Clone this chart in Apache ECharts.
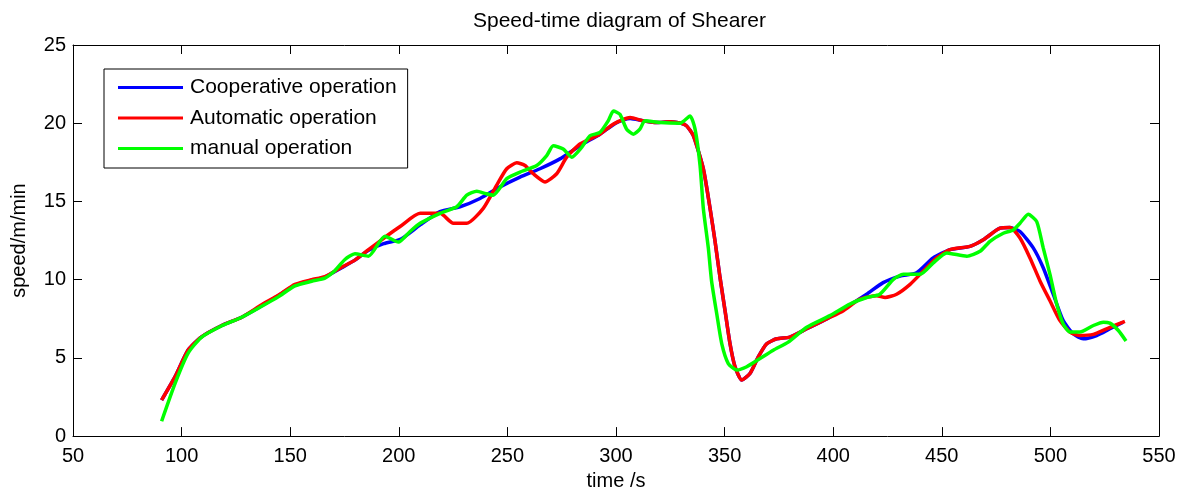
<!DOCTYPE html>
<html>
<head>
<meta charset="utf-8">
<script src="https://cdn.jsdelivr.net/npm/echarts@6/dist/echarts.min.js"></script>
<style>
  html, body { margin: 0; padding: 0; background: #fff; }
  #chart { width: 1185px; height: 496px; }
</style>
</head>
<body>
<div id="chart"></div>
<script>
// ---- data ----
const chartTitle = 'Speed-time diagram of Shearer';
const xAxisName = 'time /s';
const yAxisName = 'speed/m/min';
const seriesNames = ['Cooperative operation', 'Automatic operation', 'manual operation'];

const tCoop = [90.8, 97, 103, 109, 118.5, 127.7, 136.9, 144.5, 152.2, 159.9, 166, 173.7, 179.8, 185.9, 193, 201, 209.8, 219, 228.2, 237.4, 246.6, 255.8, 265, 274.2, 283.4, 292.6, 300.3, 306.5, 312.6, 318.7, 325, 330, 332.5, 335.6, 340.2, 343.3, 345.6, 347.9, 350.2, 352.5, 354.8, 357.9, 361.7, 365.5, 369.4, 374, 380, 387.8, 397, 404.7, 415.4, 423, 430.8, 438.4, 446, 453.8, 463, 469.1, 476.8, 481.4, 486, 492.1, 496.7, 501.3, 505.9, 510.5, 515.1, 521.3, 527.4, 533.5];
const vCoop = [2.3, 3.8, 5.5, 6.33, 7.07, 7.6, 8.33, 8.97, 9.66, 9.96, 10.17, 10.76, 11.25, 11.86, 12.3, 12.6, 13.5, 14.35, 14.66, 15.19, 15.93, 16.56, 17.09, 17.72, 18.56, 19.3, 20.04, 20.3, 20.15, 20.04, 20.1, 20.0, 19.83, 19.2, 17.09, 14.56, 12.45, 10.13, 8.02, 5.9, 4.43, 3.59, 4.0, 5.06, 5.9, 6.22, 6.33, 6.86, 7.49, 8.12, 9.07, 9.81, 10.23, 10.44, 11.39, 11.92, 12.13, 12.55, 13.29, 13.33, 13.08, 12.03, 10.76, 9.07, 7.38, 6.54, 6.22, 6.43, 6.86, 7.28];

const tAuto = [90.8, 97, 103, 109, 118.5, 127.7, 136.9, 144.5, 152.2, 159.9, 166, 173.7, 179.8, 185.9, 195.2, 200.6, 209.8, 219, 225.1, 231.3, 238.9, 245, 249.7, 254.3, 258.1, 261.9, 267.3, 272.7, 277.3, 283.4, 292.6, 298.8, 306.5, 312.6, 318.7, 325, 330, 332.5, 335.6, 340.2, 343.3, 345.6, 347.9, 350.2, 352.5, 354.8, 357.9, 361.7, 365.5, 369.4, 374, 380, 387.8, 397, 404.7, 412.3, 420, 423.9, 429.2, 435.4, 441.5, 447.6, 453.8, 463, 469.1, 476.8, 481.4, 486, 490.6, 495.2, 499.8, 504.4, 509, 513.6, 519.8, 525.9, 534.3];
const vAuto = [2.3, 3.8, 5.5, 6.33, 7.07, 7.6, 8.4, 9.0, 9.7, 10.0, 10.2, 10.8, 11.25, 11.9, 12.87, 13.4, 14.24, 14.24, 13.6, 13.6, 14.56, 16.03, 17.09, 17.47, 17.3, 16.77, 16.25, 16.77, 17.83, 18.67, 19.3, 19.94, 20.36, 20.15, 20.04, 20.1, 20.0, 19.83, 19.2, 17.09, 14.56, 12.45, 10.13, 8.02, 5.9, 4.43, 3.59, 4.0, 5.06, 5.9, 6.22, 6.33, 6.86, 7.49, 8.02, 8.75, 8.97, 8.86, 9.07, 9.7, 10.55, 11.39, 11.92, 12.13, 12.55, 13.29, 13.33, 12.66, 11.39, 9.92, 8.65, 7.38, 6.65, 6.43, 6.5, 6.86, 7.34];

const tManual = [90.8, 97, 103, 109, 118.5, 127.7, 136.9, 144.5, 152.2, 159.9, 166, 170, 175.2, 179.8, 186, 193.6, 199.8, 205.2, 209.8, 219, 226.7, 231.3, 235.9, 240, 243.5, 249.7, 255.8, 263.5, 268.1, 271.1, 275.7, 279.6, 284.2, 288, 292.6, 296.4, 298.8, 301.8, 304.9, 308, 311, 313.3, 320.3, 329.5, 334.1, 336.4, 338.7, 340.2, 342.5, 344, 346.4, 348.7, 351.7, 355.6, 360.2, 366.3, 372.4, 379.3, 387.8, 398.5, 407.7, 415.4, 421.5, 427.7, 432.3, 440, 446.1, 452.3, 461.5, 467.6, 472.2, 478.3, 482.9, 486, 489.8, 493.7, 496.7, 499.8, 502.9, 505.9, 509, 513.6, 519.8, 524.4, 527.4, 531.3, 534.8];
const vManual = [0.95, 3.37, 5.3, 6.3, 7.05, 7.6, 8.3, 8.9, 9.6, 9.9, 10.1, 10.5, 11.29, 11.65, 11.5, 12.78, 12.4, 13.08, 13.6, 14.24, 14.66, 15.4, 15.65, 15.5, 15.4, 16.46, 16.88, 17.3, 17.93, 18.56, 18.35, 17.83, 18.46, 19.2, 19.41, 20.15, 20.78, 20.57, 19.62, 19.3, 19.62, 20.15, 20.04, 20.0, 20.46, 19.62, 17.3, 14.56, 12.03, 9.92, 7.8, 5.9, 4.64, 4.22, 4.43, 4.96, 5.49, 6.01, 6.96, 7.7, 8.44, 8.86, 9.07, 10.02, 10.34, 10.34, 11.08, 11.71, 11.5, 11.81, 12.45, 12.97, 13.18, 13.61, 14.18, 13.71, 12.03, 10.34, 8.44, 7.17, 6.65, 6.65, 7.07, 7.28, 7.22, 6.75, 6.08];

const xTicks = { min: 50, max: 550, interval: 50 };
const yTicks = { min: 0, max: 25, interval: 5 };

// ---- chart ----
const FONT = '"Liberation Sans", Arial, Helvetica, sans-serif';
const zip = (ts, vs) => ts.map((t, i) => [t, vs[i]]);
const colors = ['#0000ff', '#ff0000', '#00ff00'];

const axisLine = { show: true, onZero: false, lineStyle: { color: '#000', width: 1 } };
const axisTick = { show: true, inside: true, length: 9, lineStyle: { color: '#000', width: 1 } };
const labelStyle = { color: '#000', fontSize: 20, fontFamily: FONT };

const chart = echarts.init(document.getElementById('chart'), null, { renderer: 'canvas' });
chart.setOption({
  animation: false,
  backgroundColor: '#fff',
  title: {
    text: chartTitle,
    left: 468,
    top: 6,
    textStyle: { color: '#000', fontSize: 21, fontWeight: 'normal', fontFamily: FONT }
  },
  legend: {
    orient: 'vertical',
    left: 104,
    top: 69,
    icon: 'rect',
    itemWidth: 65,
    itemHeight: 3,
    itemGap: 9.5,
    padding: [8, 11, 9, 14],
    borderColor: '#000',
    borderWidth: 1,
    backgroundColor: '#fff',
    selectedMode: false,
    textStyle: { color: '#000', fontSize: 21, fontFamily: FONT, lineHeight: 21, padding: [0, 0, 0, 2] },
    data: seriesNames
  },
  grid: { left: 73, right: 26, top: 45, bottom: 56, containLabel: false },
  xAxis: [
    {
      type: 'value', position: 'bottom',
      min: xTicks.min, max: xTicks.max, interval: xTicks.interval,
      name: xAxisName, nameLocation: 'middle', nameGap: 34,
      nameTextStyle: labelStyle,
      axisLine, axisTick,
      axisLabel: Object.assign({ margin: 10 }, labelStyle),
      splitLine: { show: false }
    },
    {
      type: 'value', position: 'top',
      min: xTicks.min, max: xTicks.max, interval: xTicks.interval,
      axisLine, axisTick, axisLabel: { show: false }, splitLine: { show: false }
    }
  ],
  yAxis: [
    {
      type: 'value', position: 'left',
      min: yTicks.min, max: yTicks.max, interval: yTicks.interval,
      name: yAxisName, nameLocation: 'middle', nameGap: 44, nameRotate: 90,
      nameTextStyle: labelStyle,
      axisLine, axisTick,
      axisLabel: Object.assign({ margin: 7 }, labelStyle),
      splitLine: { show: false }
    },
    {
      type: 'value', position: 'right',
      min: yTicks.min, max: yTicks.max, interval: yTicks.interval,
      axisLine, axisTick, axisLabel: { show: false }, splitLine: { show: false }
    }
  ],
  series: [
    { name: seriesNames[0], data: zip(tCoop, vCoop), color: colors[0] },
    { name: seriesNames[1], data: zip(tAuto, vAuto), color: colors[1] },
    { name: seriesNames[2], data: zip(tManual, vManual), color: colors[2] }
  ].map(s => ({
    type: 'line',
    name: s.name,
    data: s.data,
    xAxisIndex: 0, yAxisIndex: 0,
    showSymbol: false,
    symbol: 'none',
    smooth: 0.2,
    itemStyle: { color: s.color },
    lineStyle: { color: s.color, width: 3.5 }
  }))
});
</script>
</body>
</html>
